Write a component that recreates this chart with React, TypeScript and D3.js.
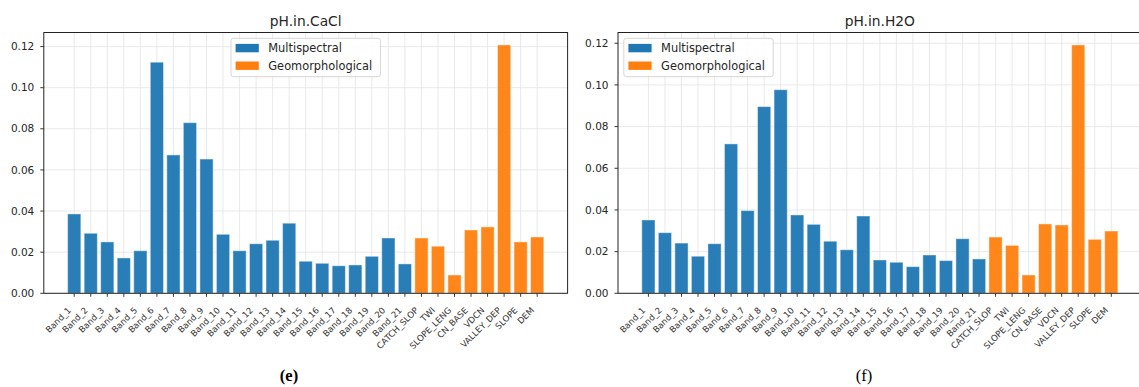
import React from "react";
import * as d3 from "d3";

const categories = [
  "Band_1", "Band_2", "Band_3", "Band_4", "Band_5", "Band_6", "Band_7", "Band_8", "Band_9", "Band_10",
  "Band_11", "Band_12", "Band_13", "Band_14", "Band_15", "Band_16", "Band_17", "Band_18", "Band_19", "Band_20",
  "Band_21", "CATCH_SLOP", "TWI", "SLOPE_LENG", "CN_BASE", "VDCN", "VALLEY_DEP", "SLOPE", "DEM",
];
const groups = [
  "Multispectral", "Multispectral", "Multispectral", "Multispectral", "Multispectral", "Multispectral", "Multispectral",
  "Multispectral", "Multispectral", "Multispectral", "Multispectral", "Multispectral", "Multispectral", "Multispectral",
  "Multispectral", "Multispectral", "Multispectral", "Multispectral", "Multispectral", "Multispectral", "Multispectral",
  "Geomorphological", "Geomorphological", "Geomorphological", "Geomorphological", "Geomorphological",
  "Geomorphological", "Geomorphological", "Geomorphological",
];
const cacl = [
  0.0386, 0.0292, 0.0250, 0.0172, 0.0207, 0.1124, 0.0673, 0.0830, 0.0653, 0.0287,
  0.0207, 0.0241, 0.0258, 0.0341, 0.0156, 0.0146, 0.0134, 0.0138, 0.0180, 0.0269,
  0.0143, 0.0269, 0.0229, 0.0089, 0.0308, 0.0323, 0.1208, 0.0250, 0.0274,
];
const h2o = [
  0.0352, 0.0291, 0.0241, 0.0178, 0.0238, 0.0717, 0.0397, 0.0896, 0.0977, 0.0376,
  0.0331, 0.0250, 0.0209, 0.0371, 0.0160, 0.0149, 0.0128, 0.0184, 0.0157, 0.0262,
  0.0165, 0.0270, 0.0230, 0.0088, 0.0333, 0.0328, 0.1192, 0.0259, 0.0299,
];
const yTicks = [0, 0.02, 0.04, 0.06, 0.08, 0.1, 0.12];
const legendItems = ["Multispectral", "Geomorphological"];
const colors: Record<string, string> = { Multispectral: "#1f77b4", Geomorphological: "#ff7f0e" };

const FONT = "'DejaVu Sans', sans-serif";
const TOP = 32.5;
const BOTTOM = 293.3;

type PanelProps = {
  title: string;
  values: number[];
  left: number;
  right: number;
  legend: "center" | "left";
  caption: string;
  captionBold: boolean;
  captionX: number;
};

function Panel({ title, values, left, right, legend, caption, captionBold, captionX }: PanelProps) {
  const n = categories.length;
  const barW = 0.8;
  const span = n - 1 + barW;
  const x = d3
    .scaleLinear()
    .domain([-barW / 2 - 0.05 * span, n - 1 + barW / 2 + 0.05 * span])
    .range([left, right]);
  const ymax = (d3.max(values) as number) * 1.05;
  const y = d3.scaleLinear().domain([0, ymax]).range([BOTTOM, TOP]);
  const bw = x(barW) - x(0);
  const cx = (left + right) / 2;
  const legW = 149.4;
  const legX = legend === "center" ? (left + right) / 2 - legW / 2 : left + 5.8;
  const legY = 38.3;
  return (
    <g>
      <defs>
        <clipPath id={`clip-${title}`}>
          <rect x={left} y={TOP} width={right - left} height={BOTTOM - TOP} />
        </clipPath>
      </defs>
      <g clipPath={`url(#clip-${title})`}>
        {categories.map((c, i) => (
          <line key={c} x1={x(i)} x2={x(i)} y1={TOP} y2={BOTTOM} stroke="#e6e6e6" strokeWidth={0.9} />
        ))}
        {yTicks.filter((t) => t <= ymax).map((t) => (
          <line key={t} x1={left} x2={right} y1={y(t)} y2={y(t)} stroke="#e6e6e6" strokeWidth={0.9} />
        ))}
        {values.map((v, i) => (
          <rect
            key={categories[i]}
            x={x(i) - bw / 2}
            y={y(v)}
            width={bw}
            height={y(0) - y(v)}
            fill={colors[groups[i]]}
            fillOpacity={0.95}
            stroke="#ffffff"
            strokeOpacity={0.45}
            strokeWidth={1}
          />
        ))}
      </g>
      <rect x={left} y={TOP} width={right - left} height={BOTTOM - TOP} fill="none" stroke="#222" strokeWidth={1} />
      {yTicks.filter((t) => t <= ymax).map((t) => (
        <g key={t}>
          <line x1={left - 3.5} x2={left} y1={y(t)} y2={y(t)} stroke="#222" strokeWidth={0.9} />
          <text x={left - 9.5} y={y(t)} dy="0.35em" textAnchor="end" fontFamily={FONT} fontSize={10.5} fill="#262626">
            {d3.format(".2f")(t)}
          </text>
        </g>
      ))}
      {categories.map((c, i) => (
        <g key={c}>
          <line x1={x(i)} x2={x(i)} y1={BOTTOM} y2={BOTTOM + 3.5} stroke="#222" strokeWidth={0.9} />
          <text
            transform={`translate(${x(i) - 2.5},${BOTTOM + 17.5}) rotate(-45)`}
            textAnchor="end"
            fontFamily={FONT}
            fontSize={8.6}
            fill="#333"
          >
            {c}
          </text>
        </g>
      ))}
      <text x={cx} y={26} textAnchor="middle" fontFamily={FONT} fontSize={13.8} fill="#262626">
        {title}
      </text>
      <g>
        <rect x={legX} y={legY} width={legW} height={38.4} rx={2.5} fill="#ffffff" fillOpacity={0.85} stroke="#d6d6d6" strokeWidth={1} />
        {legendItems.map((g, k) => (
          <g key={g}>
            <rect x={legX + 4.6} y={legY + 5.6 + k * 17.6} width={23.2} height={8.4} fill={colors[g]} />
            <text x={legX + 37.3} y={legY + 14 + k * 17.6} fontFamily={FONT} fontSize={11.4} fill="#262626">
              {g}
            </text>
          </g>
        ))}
      </g>
      <text
        x={captionX}
        y={381}
        textAnchor="middle"
        fontFamily="'Liberation Serif', 'DejaVu Serif', serif"
        fontSize={16.5}
        fontWeight={captionBold ? "bold" : "normal"}
        fill="#000"
      >
        {caption}
      </text>
    </g>
  );
}

export default function App() {
  return (
    <svg
      width={1139}
      height={387}
      viewBox="0 0 1139 387"
      style={{ position: "absolute", left: 0, top: 0, background: "#fff" }}
    >
      <rect x={0} y={0} width={1139} height={387} fill="#fff" />
      <Panel title="pH.in.CaCl" values={cacl} left={43.8} right={567.6} legend="center" caption="(e)" captionBold={true} captionX={289} />
      <Panel title="pH.in.H2O" values={h2o} left={618} right={1141.7} legend="left" caption="(f)" captionBold={false} captionX={864} />
    </svg>
  );
}
